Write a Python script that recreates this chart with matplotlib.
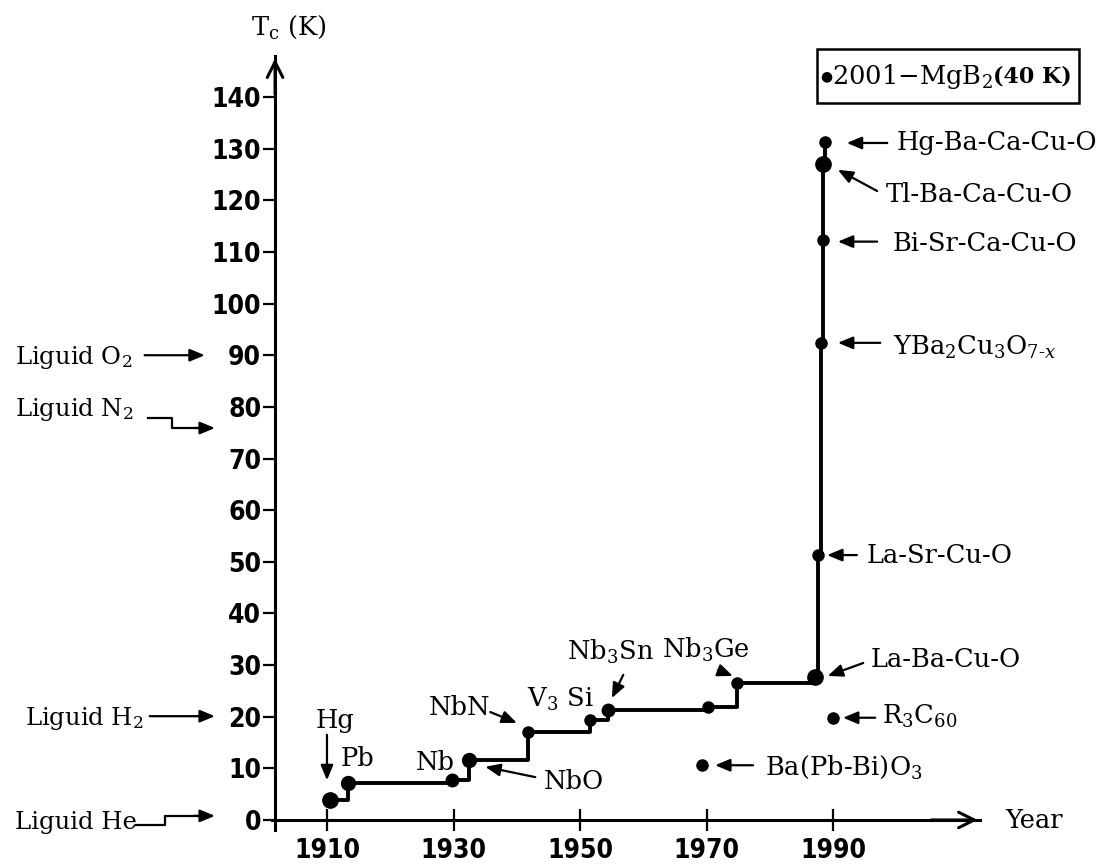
import matplotlib
matplotlib.use('Agg')
import matplotlib.pyplot as plt
from matplotlib.patches import Rectangle
from matplotlib import font_manager

plt.rcParams['font.family'] = ['DejaVu Serif', 'DejaVu Sans']
plt.rcParams['mathtext.fontset'] = 'dejavuserif'

# main record line: year of discovery and T_c (K)
years = [1910.5, 1913.3, 1929.7, 1932.4, 1941.7, 1951.5, 1954.4, 1970.2, 1974.8,
         1987.1, 1987.6, 1988.0, 1988.4, 1988.4, 1988.7]
tc = [3.9, 7.2, 7.8, 11.6, 17.0, 19.4, 21.3, 21.9, 26.5,
      27.7, 51.3, 92.4, 112.3, 127.0, 131.3]
dot_size = [11, 10, 9, 10, 8, 8, 9, 8, 8, 11, 8, 8, 8, 11, 8]

# compounds off the record line
other_years = [1969.2, 1990.0]
other_tc = [10.6, 19.8]

x_ticks = [1910, 1930, 1950, 1970, 1990]
y_ticks = list(range(0, 150, 10))

# condensed face for the tick numbers if one is installed
tick_font = dict(family='Liberation Serif', weight='bold', size=22)
cond = font_manager.FontProperties(family='DejaVu Sans', stretch='condensed', weight='bold')
if 'Condensed' in font_manager.findfont(cond, fallback_to_default=True):
    tick_font = dict(family='DejaVu Sans', stretch='condensed', weight='bold', size=19)

fig = plt.figure(figsize=(11.03, 8.65), dpi=100)
ax = fig.add_axes([0.2465, 0.0401, 0.6423, 0.8955])
ax.set_xlim(1901.3, 2013.2)
ax.set_ylim(-2, 148)

for s in ['top', 'right']:
    ax.spines[s].set_visible(False)
ax.spines['left'].set_position(('data', 1901.8))
ax.spines['bottom'].set_position(('data', 0))
ax.spines['left'].set_linewidth(2.2)
ax.spines['bottom'].set_linewidth(2.2)

ax.set_xticks(x_ticks)
ax.set_yticks(y_ticks)
ax.tick_params(axis='y', direction='out', length=9, width=1.6, pad=1)
ax.tick_params(axis='x', direction='inout', length=16, width=1.6, pad=5)
for lab in ax.get_xticklabels() + ax.get_yticklabels():
    lab.set_fontproperties(font_manager.FontProperties(**tick_font))

# axis arrow heads
ax.annotate('', xy=(1901.8, 148), xytext=(1901.8, 140),
            arrowprops=dict(arrowstyle='->', lw=2.2, mutation_scale=28), annotation_clip=False)
ax.annotate('', xy=(2013.2, 0), xytext=(2005, 0),
            arrowprops=dict(arrowstyle='->', lw=2.2, mutation_scale=28), annotation_clip=False)

ax.step(years, tc, where='post', color='black', lw=2.8, zorder=3)
for x, y, s in zip(years, tc, dot_size):
    ax.plot(x, y, 'o', color='black', ms=s, zorder=4)
ax.plot(other_years, other_tc, 'o', color='black', ms=8, zorder=4)

arrow = dict(arrowstyle='-|>,head_length=0.6,head_width=0.25', lw=1.6, color='black',
             mutation_scale=15, shrinkA=0, shrinkB=0)
fs = 18.5


def note(text, pos, tail, tip, ha='left', size=fs):
    ax.text(pos[0], pos[1], text, fontsize=size, ha=ha, va='center')
    if tail is not None:
        ax.annotate('', xy=tip, xytext=tail, arrowprops=arrow, annotation_clip=False)


note('Hg-Ba-Ca-Cu-O', (2000.0, 131.1), (1998.5, 131.1), (1992.1, 131.1))
note('Tl-Ba-Ca-Cu-O', (1998.2, 121.2), (1996.9, 121.8), (1990.7, 125.9))
note('Bi-Sr-Ca-Cu-O', (1999.3, 111.7), (1996.9, 112.0), (1990.7, 112.0))
note(r'YBa$_2$Cu$_3$O$_{7\text{-}x}$', (1999.4, 91.5), (1997.4, 92.4), (1990.7, 92.4))
note('La-Sr-Cu-O', (1995.3, 51.3), (1993.7, 51.3), (1989.0, 51.3))
note('La-Ba-Cu-O', (1995.8, 31.0), (1994.7, 30.4), (1989.1, 27.9))
note(r'R$_3$C$_{60}$', (1997.7, 20.0), (1996.6, 19.8), (1991.5, 19.8))
note(r'Ba(Pb-Bi)O$_3$', (1979.2, 10.2), (1977.3, 10.6), (1971.3, 10.6))
note(r'Nb$_3$Ge', (1969.9, 33.0), (1971.8, 29.0), (1974.1, 27.9), ha='center')
note(r'Nb$_3$Sn', (1954.7, 32.6), (1956.8, 28.1), (1955.0, 23.6), ha='center')
note(r'V$_3$ Si', (1946.8, 23.3), None, None, ha='center')
note('NbN', (1930.9, 21.7), (1935.8, 20.9), (1940.0, 18.8), ha='center')
note('NbO', (1949.0, 7.4), (1942.9, 8.3), (1935.0, 10.3), ha='center')
note('Nb', (1927.1, 11.2), None, None, ha='center')
note('Pb', (1914.9, 12.0), None, None, ha='center')
note('Hg', (1911.3, 19.2), (1910.0, 16.5), (1910.0, 7.7), ha='center')

# coolant reference levels on the left
lfs = 17.5
note(r'Liguid O$_2$', (1860.7, 89.6), (1881.2, 90.0), (1890.7, 90.0), size=lfs)
note(r'Liguid N$_2$', (1860.7, 79.4), None, None, size=lfs)
ax.plot([1881.7, 1885.5, 1885.5, 1890.0], [77.8, 77.8, 75.9, 75.9], color='black', lw=1.6, clip_on=False)
ax.annotate('', xy=(1892.3, 75.9), xytext=(1889.0, 75.9), arrowprops=arrow, annotation_clip=False)
note(r'Liguid H$_2$', (1862.3, 19.6), (1882.0, 20.1), (1892.3, 20.1), size=lfs)
note('Liguid He', (1860.7, -0.4), None, None, size=lfs)
ax.plot([1879.8, 1884.4, 1884.4, 1890.0], [-1.0, -1.0, 0.8, 0.8], color='black', lw=1.6, clip_on=False)
ax.annotate('', xy=(1892.3, 0.8), xytext=(1889.0, 0.8), arrowprops=arrow, annotation_clip=False)

fig.text(0.228, 0.969, r'T$_\mathrm{c}$ (K)', fontsize=fs, ha='left', va='center')
fig.text(0.911, 0.051, 'Year', fontsize=fs, ha='left', va='center')

# MgB2 box
fig.add_artist(Rectangle((0.7407, 0.881), 0.2375, 0.0624, transform=fig.transFigure,
                         fill=False, lw=1.8, edgecolor='black'))
fig.canvas.draw()
xpos = 0.7435
for txt, kw in [('\u25cf', dict(fontsize=10, family='DejaVu Sans')),
                ('2001\u2212MgB$_2$', dict(fontsize=fs)),
                ('(40 K)', dict(fontsize=16, fontweight='bold'))]:
    t = fig.text(xpos, 0.912, txt, ha='left', va='center', **kw)
    xpos = t.get_window_extent(fig.canvas.get_renderer()).x1 / fig.bbox.width

fig.savefig('out.png', dpi=100)
